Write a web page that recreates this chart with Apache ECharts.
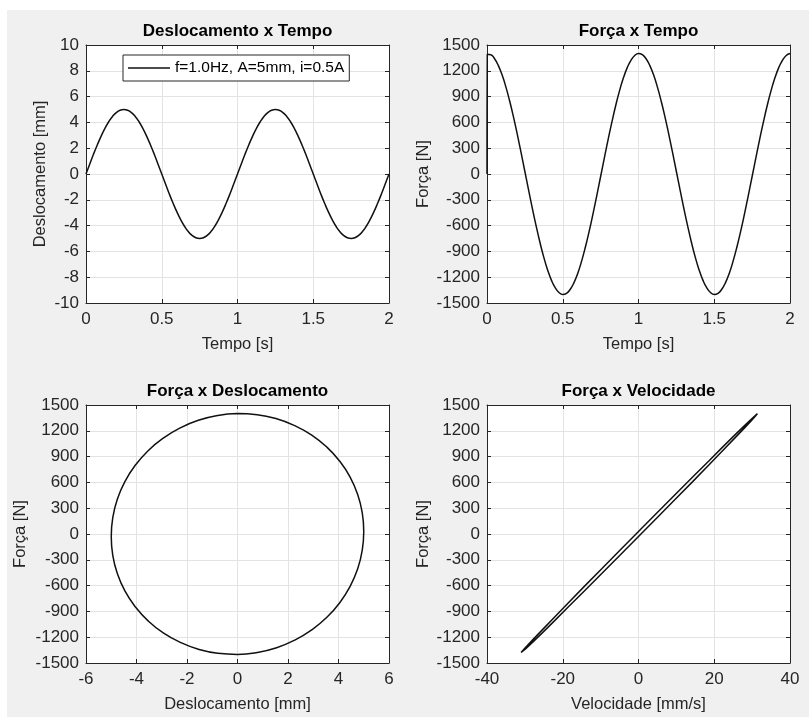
<!DOCTYPE html>
<html>
<head>
<meta charset="utf-8">
<script src="https://cdn.jsdelivr.net/npm/echarts@6/dist/echarts.min.js"></script>
<style>
html,body{margin:0;padding:0;background:#fff;}
#chart{width:809px;height:717px;}
</style>
</head>
<body>
<div id="chart"></div>
<script>
const tempo = [0, 0.025, 0.05, 0.075, 0.1, 0.125, 0.15, 0.175, 0.2, 0.225, 0.25, 0.275, 0.3, 0.325, 0.35, 0.375, 0.4, 0.425, 0.45, 0.475,
  0.5, 0.525, 0.55, 0.575, 0.6, 0.625, 0.65, 0.675, 0.7, 0.725, 0.75, 0.775, 0.8, 0.825, 0.85, 0.875, 0.9, 0.925, 0.95, 0.975,
  1, 1.025, 1.05, 1.075, 1.1, 1.125, 1.15, 1.175, 1.2, 1.225, 1.25, 1.275, 1.3, 1.325, 1.35, 1.375, 1.4, 1.425, 1.45, 1.475,
  1.5, 1.525, 1.55, 1.575, 1.6, 1.625, 1.65, 1.675, 1.7, 1.725, 1.75, 1.775, 1.8, 1.825, 1.85, 1.875, 1.9, 1.925, 1.95, 1.975, 2];
const deslocamento = [0, 0.78, 1.55, 2.27, 2.94, 3.54, 4.05, 4.46, 4.76, 4.94, 5, 4.94, 4.76, 4.46, 4.05, 3.54, 2.94, 2.27, 1.55, 0.78,
  0, -0.78, -1.55, -2.27, -2.94, -3.54, -4.05, -4.46, -4.76, -4.94, -5, -4.94, -4.76, -4.46, -4.05, -3.54, -2.94, -2.27, -1.55, -0.78,
  0, 0.78, 1.55, 2.27, 2.94, 3.54, 4.05, 4.46, 4.76, 4.94, 5, 4.94, 4.76, 4.46, 4.05, 3.54, 2.94, 2.27, 1.55, 0.78,
  0, -0.78, -1.55, -2.27, -2.94, -3.54, -4.05, -4.46, -4.76, -4.94, -5, -4.94, -4.76, -4.46, -4.05, -3.54, -2.94, -2.27, -1.55, -0.78, 0];
const velocidade = [31.4, 31.0, 29.9, 28.0, 25.4, 22.2, 18.5, 14.3, 9.7, 4.9, 0, -4.9, -9.7, -14.3, -18.5, -22.2, -25.4, -28.0, -29.9, -31.0,
  -31.4, -31.0, -29.9, -28.0, -25.4, -22.2, -18.5, -14.3, -9.7, -4.9, 0, 4.9, 9.7, 14.3, 18.5, 22.2, 25.4, 28.0, 29.9, 31.0,
  31.4, 31.0, 29.9, 28.0, 25.4, 22.2, 18.5, 14.3, 9.7, 4.9, 0, -4.9, -9.7, -14.3, -18.5, -22.2, -25.4, -28.0, -29.9, -31.0,
  -31.4, -31.0, -29.9, -28.0, -25.4, -22.2, -18.5, -14.3, -9.7, -4.9, 0, 4.9, 9.7, 14.3, 18.5, 22.2, 25.4, 28.0, 29.9, 31.0, 31.4];
const forca = [0, 1387, 1340, 1260, 1150, 1010, 846, 662, 460, 248, 29, -190, -405, -609, -799, -969, -1115, -1234, -1322, -1378,
  -1400, -1387, -1340, -1260, -1150, -1010, -846, -662, -460, -248, -29, 190, 405, 609, 799, 969, 1115, 1234, 1322, 1378,
  1400, 1387, 1340, 1260, 1150, 1010, 846, 662, 460, 248, 29, -190, -405, -609, -799, -969, -1115, -1234, -1322, -1378,
  -1400, -1387, -1340, -1260, -1150, -1010, -846, -662, -460, -248, -29, 190, 405, 609, 799, 969, 1115, 1234, 1322, 1378, 1400];
// initial rise of the force at the start of the record
const tempoInicio = [0.002];
const forcaInicio = [1392];

const legendaTexto = 'f=1.0Hz, A=5mm, i=0.5A';
const titulos = ['Deslocamento x Tempo', 'Força x Tempo', 'Força x Deslocamento', 'Força x Velocidade'];
const nomesX = ['Tempo [s]', 'Tempo [s]', 'Deslocamento [mm]', 'Velocidade [mm/s]'];
const nomesY = ['Deslocamento [mm]', 'Força [N]', 'Força [N]', 'Força [N]'];
const eixoX = [[0, 2, 0.5], [0, 2, 0.5], [-6, 6, 2], [-40, 40, 20]];
const eixoY = [[-10, 10, 2], [-1500, 1500, 300], [-1500, 1500, 300], [-1500, 1500, 300]];

// ---- build series data ----
const serieDesl = tempo.map((t, i) => [t, deslocamento[i]]);
const serieForcaT = [[tempo[0], forca[0]]]
  .concat(tempoInicio.map((t, i) => [t, forcaInicio[i]]))
  .concat(tempo.slice(1).map((t, i) => [t, forca[i + 1]]));
// one full steady cycle (second period) for the loop plots
const ini = 40;
const serieFD = deslocamento.slice(ini).map((d, i) => [d, forca[i + ini]]);
const serieFV = velocidade.slice(ini).map((v, i) => [v, forca[i + ini]]);

const FONT = "'Liberation Sans', Arial, sans-serif";
const AX = '#262626';
const grids = [
  {left: 86, top: 45, width: 303, height: 258},
  {left: 487, top: 45, width: 303, height: 258},
  {left: 86, top: 405, width: 303, height: 258},
  {left: 487, top: 405, width: 303, height: 258}
];
const nameGapY = [37, 55, 57, 55];

const option = {
  animation: false,
  backgroundColor: '#fff',
  graphic: [{type: 'rect', shape: {x: 7, y: 10, width: 802, height: 707}, style: {fill: '#f0f0f0'}, z: -10, silent: true}],
  title: titulos.map((t, i) => ({
    text: t,
    left: grids[i].left + grids[i].width / 2,
    top: grids[i].top - 22,
    textAlign: 'center',
    padding: 0,
    textStyle: {fontFamily: FONT, fontSize: 17, fontWeight: 'bold', color: '#000'}
  })),
  grid: grids.map(g => Object.assign({show: true, backgroundColor: '#fff', borderWidth: 0, containLabel: false}, g)),
  legend: {
    data: [legendaTexto],
    left: 123, top: 55,
    backgroundColor: '#fff', borderColor: AX, borderWidth: 1,
    padding: [5, 5, 5, 5],
    icon: 'rect',
    itemWidth: 42, itemHeight: 1.5, itemGap: 5,
    itemStyle: {color: '#111'},
    textStyle: {fontFamily: FONT, fontSize: 15.5, color: '#000', lineHeight: 14}
  },
  xAxis: [],
  yAxis: [],
  series: []
};

for (let i = 0; i < 4; i++) {
  const [xmin, xmax, xint] = eixoX[i];
  const [ymin, ymax, yint] = eixoY[i];
  const lineS = {show: true, onZero: false, lineStyle: {color: AX, width: 1}};
  const tick = {show: true, inside: true, length: 4, lineStyle: {color: AX}};
  option.xAxis.push({
    type: 'value', gridIndex: i, position: 'bottom', min: xmin, max: xmax, interval: xint,
    axisLine: lineS, axisTick: tick,
    axisLabel: {fontFamily: FONT, fontSize: 17, color: AX, margin: 8, formatter: v => String(v)},
    splitLine: {show: true, lineStyle: {color: '#e3e3e3', width: 1}},
    name: nomesX[i], nameLocation: 'middle', nameGap: 33,
    nameTextStyle: {fontFamily: FONT, fontSize: 16.5, color: AX}
  });
  option.xAxis.push({
    type: 'value', gridIndex: i, position: 'top', min: xmin, max: xmax, interval: xint,
    axisLine: lineS, axisTick: tick, axisLabel: {show: false}, splitLine: {show: false}
  });
  option.yAxis.push({
    type: 'value', gridIndex: i, position: 'left', min: ymin, max: ymax, interval: yint,
    axisLine: lineS, axisTick: tick,
    axisLabel: {fontFamily: FONT, fontSize: 17, color: AX, margin: 7, formatter: v => String(v)},
    splitLine: {show: true, lineStyle: {color: '#e3e3e3', width: 1}},
    name: nomesY[i], nameLocation: 'middle', nameGap: nameGapY[i],
    nameTextStyle: {fontFamily: FONT, fontSize: 16.5, color: AX}
  });
  option.yAxis.push({
    type: 'value', gridIndex: i, position: 'right', min: ymin, max: ymax, interval: yint,
    axisLine: lineS, axisTick: tick, axisLabel: {show: false}, splitLine: {show: false}
  });
}

const baseSerie = (name, idx, data, smooth) => ({
  name: name, type: 'line', xAxisIndex: idx * 2, yAxisIndex: idx * 2, data: data,
  showSymbol: false, symbol: 'none', smooth: smooth,
  lineStyle: {color: '#111', width: 1.5}, itemStyle: {color: '#111'}, z: 5
});
option.series.push(baseSerie(legendaTexto, 0, serieDesl, true));
option.series.push(baseSerie('forcaTempo', 1, serieForcaT, true));
option.series.push(baseSerie('forcaDesl', 2, serieFD, true));
option.series.push(baseSerie('forcaVel', 3, serieFV, false));

const chart = echarts.init(document.getElementById('chart'), null, {renderer: 'canvas'});
chart.setOption(option);
</script>
</body>
</html>
